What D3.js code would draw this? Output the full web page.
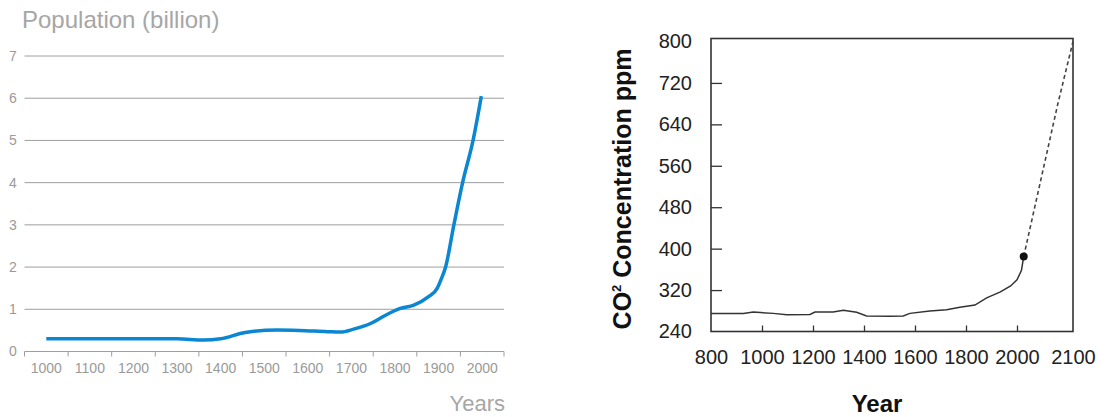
<!DOCTYPE html>
<html>
<head>
<meta charset="utf-8">
<script src="https://cdn.jsdelivr.net/npm/d3@7"></script>
<style>
  html, body { margin: 0; padding: 0; background: #fff; }
  svg { display: block; }
</style>
</head>
<body>
<svg id="chart" width="1111" height="417"></svg>
<script>
// ---------- Left chart: world population ----------
const popCategories = ["1000","1100","1200","1300","1400","1500","1600","1700","1800","1900","2000"];
const popTicks = [0,1,2,3,4,5,6,7];
const popYears  = [1000,1100,1200,1300,1360,1400,1456,1530,1580,1645,1675,1705,1745,1775,1812,1843,1877,1897,1905,1916,1935,1955,1979,1998];
const popValues = [0.30,0.30,0.30,0.30,0.27,0.30,0.45,0.51,0.50,0.47,0.46,0.53,0.67,0.84,1.02,1.10,1.30,1.50,1.69,2.00,3.00,4.00,5.00,6.05];

// ---------- Right chart: CO2 concentration ----------
const co2XTicks = [800,1000,1200,1400,1600,1800,2000,2100];
const co2YTicks = [240,320,400,480,560,640,720,800];
const co2Years  = [800,927,966,1044,1097,1188,1208,1279,1319,1371,1410,1502,1554,1580,1658,1724,1776,1835,1881,1933,1975,2000,2008,2012];
const co2Values = [275,275,277.5,275,272.5,273,277.5,277.5,281,277,270,269.5,270,275,279.5,282,287,291,305,316,328,340,358,385];
const co2ProjYears  = [2012,2073,2100];
const co2ProjValues = [385,680,800];
const co2MarkYear = 2012, co2MarkValue = 385;

const svg = d3.select("#chart");

// ===== Left chart =====
{
  const L = 24.5, R = 504, T = 56, B = 351.5;
  const g = svg.append("g");
  const xb = d3.scaleBand().domain(popCategories).range([L, R]).padding(0);
  const bw = xb.bandwidth();
  const x = d3.scaleLinear().domain([1000, 2000])
    .range([xb("1000") + bw/2, xb("2000") + bw/2]);
  const y = d3.scaleLinear().domain([0, 7]).range([B, T]);

  // gridlines
  g.append("g").selectAll("line").data(popTicks.filter(d => d > 0)).join("line")
    .attr("x1", L).attr("x2", R)
    .attr("y1", d => y(d)).attr("y2", d => y(d))
    .attr("stroke", "#9e9e9e").attr("stroke-width", 1);

  // y labels
  g.append("g").selectAll("text").data(popTicks).join("text")
    .attr("x", 13).attr("y", d => y(d)).attr("dy", "0.35em")
    .attr("text-anchor", "middle")
    .attr("font-family", "'Liberation Sans Narrow','Arial Narrow',sans-serif")
    .attr("font-size", 14).attr("fill", "#9a9a9a")
    .text(d => d);

  // x axis (category labels)
  const xAxis = g.append("g").attr("transform", `translate(0,${B})`)
    .call(d3.axisBottom(xb).tickSize(0).tickPadding(12));
  xAxis.select(".domain").attr("stroke", "#9e9e9e").attr("d", `M${L},0H${R}`);
  xAxis.selectAll("text")
    .attr("font-family", "'Liberation Sans Narrow','Arial Narrow',sans-serif")
    .attr("font-size", 14).attr("fill", "#9a9a9a");
  // tick marks at band edges
  const edges = popCategories.map(c => xb(c)).concat([R]);
  xAxis.append("g").selectAll("line").data(edges).join("line")
    .attr("x1", d => d).attr("x2", d => d).attr("y1", 0).attr("y2", 5)
    .attr("stroke", "#9e9e9e").attr("stroke-width", 1);

  // line
  const pts = popYears.map((yr, i) => [yr, popValues[i]]);
  g.append("path").datum(pts)
    .attr("fill", "none").attr("stroke", "#0b86d1").attr("stroke-width", 3.5)
    .attr("stroke-linejoin", "round")
    .attr("d", d3.line().x(d => x(d[0])).y(d => y(d[1])).curve(d3.curveMonotoneX));

  // titles
  g.append("text").attr("x", 22).attr("y", 28)
    .attr("font-family", "'Liberation Sans',Arial,sans-serif").attr("font-size", 24)
    .attr("fill", "#a6a6a6").text("Population (billion)");
  g.append("text").attr("x", 505).attr("y", 411).attr("text-anchor", "end")
    .attr("font-family", "'Liberation Sans',Arial,sans-serif").attr("font-size", 22)
    .attr("fill", "#a6a6a6").text("Years");
}

// ===== Right chart =====
{
  const L = 711, R = 1073, T = 38.5, B = 331.5;
  const g = svg.append("g");
  const x = d3.scaleLinear().domain([800, 2000, 2100]).range([L, 1017, R]);
  const y = d3.scaleLinear().domain([240, 800]).range([B, 41.5]);
  const font = "'Liberation Sans',Arial,sans-serif";

  // y axis
  const ya = g.append("g").attr("transform", `translate(${L},0)`)
    .call(d3.axisLeft(y).tickValues(co2YTicks).tickSizeInner(-11).tickSizeOuter(0).tickPadding(19));
  ya.select(".domain").remove();
  ya.selectAll(".tick line").attr("stroke", "#333").attr("stroke-width", 1.3)
    .filter(d => d === 240 || d === 800).remove();
  ya.selectAll("text").attr("font-family", font).attr("font-size", 20).attr("fill", "#222");

  // x axis
  const xa = g.append("g").attr("transform", `translate(0,${B})`)
    .call(d3.axisBottom(x).tickValues(co2XTicks).tickFormat(d3.format("d"))
      .tickSizeInner(-6).tickSizeOuter(0).tickPadding(18));
  xa.select(".domain").remove();
  xa.selectAll(".tick line").attr("stroke", "#333").attr("stroke-width", 1.3)
    .filter(d => d === 800 || d === 2100).remove();
  xa.selectAll("text").attr("font-family", font).attr("font-size", 20).attr("fill", "#222");

  // frame
  g.append("rect").attr("x", L).attr("y", T).attr("width", R - L).attr("height", B - T)
    .attr("fill", "none").attr("stroke", "#333").attr("stroke-width", 1.6);

  // historical line
  const pts = co2Years.map((yr, i) => [yr, co2Values[i]]);
  const line = d3.line().x(d => x(d[0])).y(d => y(d[1]));
  g.append("path").datum(pts).attr("fill", "none").attr("stroke", "#333")
    .attr("stroke-width", 1.5).attr("d", line);

  // projection (dashed)
  const proj = co2ProjYears.map((yr, i) => [yr, co2ProjValues[i]]);
  g.append("path").datum(proj).attr("fill", "none").attr("stroke", "#444")
    .attr("stroke-width", 1.6).attr("stroke-dasharray", "4,3").attr("d", line);

  // marker
  g.append("circle").attr("cx", x(co2MarkYear)).attr("cy", y(co2MarkValue)).attr("r", 4)
    .attr("fill", "#111");

  // axis titles
  const yt = g.append("text")
    .attr("transform", `translate(631,189) rotate(-90)`)
    .attr("text-anchor", "middle")
    .attr("font-family", font).attr("font-size", 25).attr("font-weight", "bold").attr("fill", "#111");
  yt.append("tspan").text("CO");
  yt.append("tspan").attr("font-size", 13).attr("dy", -10).text("2");
  yt.append("tspan").attr("dy", 10).text(" Concentration ppm");

  g.append("text").attr("x", 877).attr("y", 412).attr("text-anchor", "middle")
    .attr("font-family", font).attr("font-size", 24).attr("font-weight", "bold").attr("fill", "#111")
    .text("Year");
}
</script>
</body>
</html>
